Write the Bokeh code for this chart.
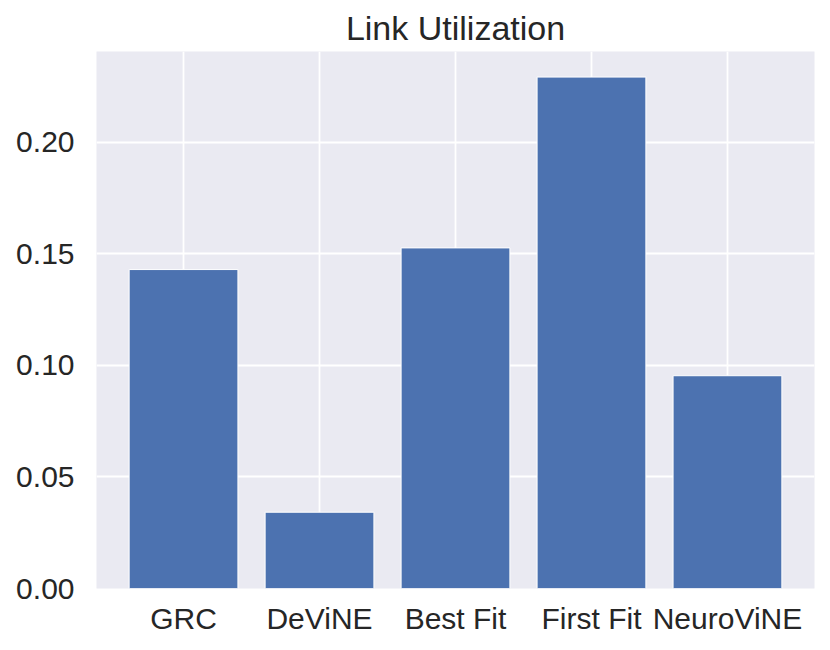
from bokeh.plotting import figure
from bokeh.models import Range1d, FixedTicker, NumeralTickFormatter, ColumnDataSource
from bokeh.embed import file_html
from bokeh.resources import INLINE

# ---- data ----
categories = ["GRC", "DeViNE", "Best Fit", "First Fit", "NeuroViNE"]
values = [0.143, 0.0342, 0.1527, 0.2293, 0.0954]
y_ticks = [0.0, 0.05, 0.10, 0.15, 0.20]
title_text = "Link Utilization"

positions = list(range(len(categories)))
source = ColumnDataSource(dict(x=positions, top=values))

FONT = "Liberation Sans"
TEXT = "#262626"

p = figure(
    width=822, height=642,
    output_backend="svg", toolbar_location=None,
    x_range=Range1d(-0.64, len(categories) - 1 + 0.64),
    y_range=Range1d(0, max(values) * 1.05),
    min_border_left=96, min_border_right=8,
    min_border_top=51, min_border_bottom=54,
    title=title_text,
)
p.background_fill_color = "#EAEAF2"
p.border_fill_color = "white"
p.outline_line_color = None

p.title.align = "center"
p.title.text_font = FONT
p.title.text_font_size = "34px"
p.title.text_font_style = "normal"
p.title.text_color = TEXT
p.title.standoff = 10

p.vbar(x="x", top="top", width=0.8, bottom=0, source=source,
       fill_color="#4C72B0", line_color="white", line_width=1)

p.xaxis.ticker = FixedTicker(ticks=positions)
p.xaxis.major_label_overrides = {i: c for i, c in enumerate(categories)}
p.yaxis.ticker = FixedTicker(ticks=y_ticks)
p.yaxis.formatter = NumeralTickFormatter(format="0.00")

for ax in (p.xaxis, p.yaxis):
    ax.axis_line_color = None
    ax.major_tick_line_color = None
    ax.minor_tick_line_color = None
    ax.major_tick_out = 0
    ax.major_tick_in = 0
    ax.minor_tick_out = 0
    ax.major_label_text_font = FONT
    ax.major_label_text_font_size = "30px"
    ax.major_label_text_color = TEXT
p.yaxis.major_label_standoff = 22
p.xaxis.major_label_standoff = 13

p.xgrid.ticker = FixedTicker(ticks=positions)
p.ygrid.ticker = FixedTicker(ticks=y_ticks)
p.grid.grid_line_color = "white"
p.grid.grid_line_width = 1.8

open("out.html", "w").write(file_html(p, INLINE))
